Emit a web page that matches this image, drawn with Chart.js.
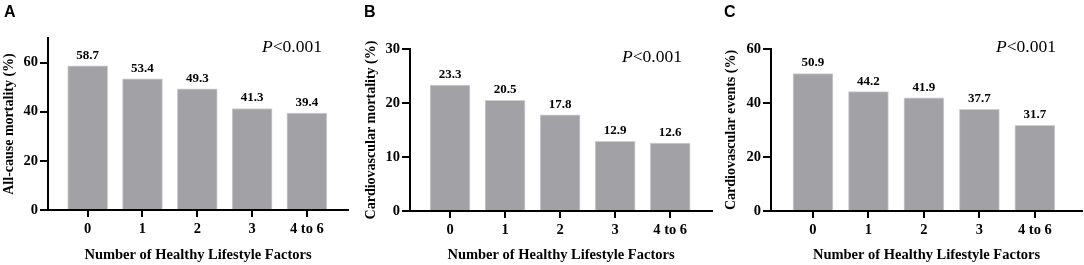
<!DOCTYPE html>
<html>
<head>
<meta charset="utf-8">
<script src="https://cdn.jsdelivr.net/npm/chart.js@4/dist/chart.umd.min.js"></script>
<style>
  html, body { margin: 0; padding: 0; background: #fff; }
  #wrap { position: relative; width: 1084px; height: 265px; overflow: hidden; }
  .panel { position: absolute; top: 0; height: 265px; }
  .letter { position: absolute; font: bold 16px 'Liberation Sans', Arial, sans-serif; color: #000; }
  .pval { position: absolute; font: 17.5px 'Liberation Serif', 'Times New Roman', serif; color: #000; white-space: nowrap; line-height: 1; }
</style>
</head>
<body>
<div id="wrap">
  <div class="panel" style="left:0;width:360px"><canvas id="cA"></canvas></div>
  <div class="panel" style="left:360px;width:360px"><canvas id="cB"></canvas></div>
  <div class="panel" style="left:720px;width:364px"><canvas id="cC"></canvas></div>
  <div class="letter" style="left:4px;top:3px">A</div>
  <div class="letter" style="left:364px;top:3px">B</div>
  <div class="letter" style="left:724px;top:3px">C</div>
  <div class="pval" style="left:262px;top:38px"><i>P</i>&lt;0.001</div>
  <div class="pval" style="left:622px;top:48px"><i>P</i>&lt;0.001</div>
  <div class="pval" style="left:996px;top:38px"><i>P</i>&lt;0.001</div>
</div>
<script>
const categories = ['0', '1', '2', '3', '4 to 6'];
const allCauseMortality = [58.7, 53.4, 49.3, 41.3, 39.4];
const cardiovascularMortality = [23.3, 20.5, 17.8, 12.9, 12.6];
const cardiovascularEvents = [50.9, 44.2, 41.9, 37.7, 31.7];
const yTicksA = [0, 20, 40, 60];
const yTicksB = [0, 10, 20, 30];
const yTicksC = [0, 20, 40, 60];
const xTitle = 'Number of Healthy Lifestyle Factors';

const SERIF = "'Liberation Serif', 'Times New Roman', serif";

const valueLabels = {
  id: 'valueLabels',
  afterDatasetsDraw(chart) {
    const ctx = chart.ctx;
    ctx.save();
    ctx.font = 'bold 13px ' + SERIF;
    ctx.fillStyle = '#000';
    ctx.textAlign = 'center';
    ctx.textBaseline = 'bottom';
    const meta = chart.getDatasetMeta(0);
    meta.data.forEach((bar, i) => {
      const v = chart.data.datasets[0].data[i].y;
      ctx.fillText(v.toFixed(1), bar.x, bar.y - 4);
    });
    ctx.restore();
  }
};

function makeChart(id, values, yTicks, yMax, yTitle, xMin, xMax, pad, yTitlePad) {
  const data = values.map((v, i) => ({ x: i, y: v }));
  return new Chart(document.getElementById(id), {
    type: 'bar',
    data: {
      datasets: [{
        data: data,
        backgroundColor: '#a2a2a6',
        borderColor: '#cfcfd2',
        borderWidth: 1,
        barThickness: 40
      }]
    },
    options: {
      responsive: true,
      maintainAspectRatio: false,
      animation: false,
      events: [],
      layout: { padding: pad },
      plugins: { legend: { display: false }, tooltip: { enabled: false } },
      scales: {
        x: {
          type: 'linear',
          offset: false,
          min: xMin,
          max: xMax,
          afterBuildTicks: (s) => { s.ticks = categories.map((c, i) => ({ value: i })); },
          afterFit: (s) => { s.height = 265 - pad.bottomArea; },
          ticks: {
            autoSkip: false,
            maxRotation: 0,
            padding: 4,
            color: '#000',
            font: { family: SERIF, size: 14.5, weight: 'bold' },
            callback: (v) => categories[v]
          },
          grid: { offset: false, drawOnChartArea: false, drawTicks: true, tickLength: 7, color: '#000', lineWidth: 2 },
          border: { display: true, color: '#000', width: 2 },
          title: {
            display: true,
            text: xTitle,
            color: '#000',
            font: { family: SERIF, size: 14.5, weight: 'bold' },
            padding: { top: 0, bottom: 1 }
          }
        },
        y: {
          min: 0,
          max: yMax,
          afterBuildTicks: (s) => { s.ticks = yTicks.map(v => ({ value: v })); },
          afterFit: (s) => { s.width = pad.axisX; },
          ticks: {
            padding: 2,
            color: '#000',
            font: { family: SERIF, size: 14.5, weight: 'bold' }
          },
          grid: { drawOnChartArea: false, drawTicks: true, tickLength: 8, color: '#000', lineWidth: 2 },
          border: { display: true, color: '#000', width: 2 },
          title: {
            display: true,
            text: yTitle,
            color: '#000',
            font: { family: SERIF, size: 14, weight: 'bold' },
            padding: { top: yTitlePad, bottom: 0 }
          }
        }
      }
    },
    plugins: [valueLabels]
  });
}

makeChart('cA', allCauseMortality, yTicksA, 70, 'All-cause mortality (%)', -0.724, 4.75,
  { top: 38, right: 12, left: 0, bottom: 0, axisX: 48, bottomArea: 210 }, 1);
makeChart('cB', cardiovascularMortality, yTicksB, 30, 'Cardiovascular mortality (%)', -0.727, 4.76,
  { top: 49, right: 8, left: 0, bottom: 0, axisX: 50, bottomArea: 211 }, 3);
makeChart('cC', cardiovascularEvents, yTicksC, 60, 'Cardiovascular events (%)', -0.757, 4.85,
  { top: 49, right: 2, left: 0, bottom: 0, axisX: 51, bottomArea: 211 }, 3);
</script>
</body>
</html>
